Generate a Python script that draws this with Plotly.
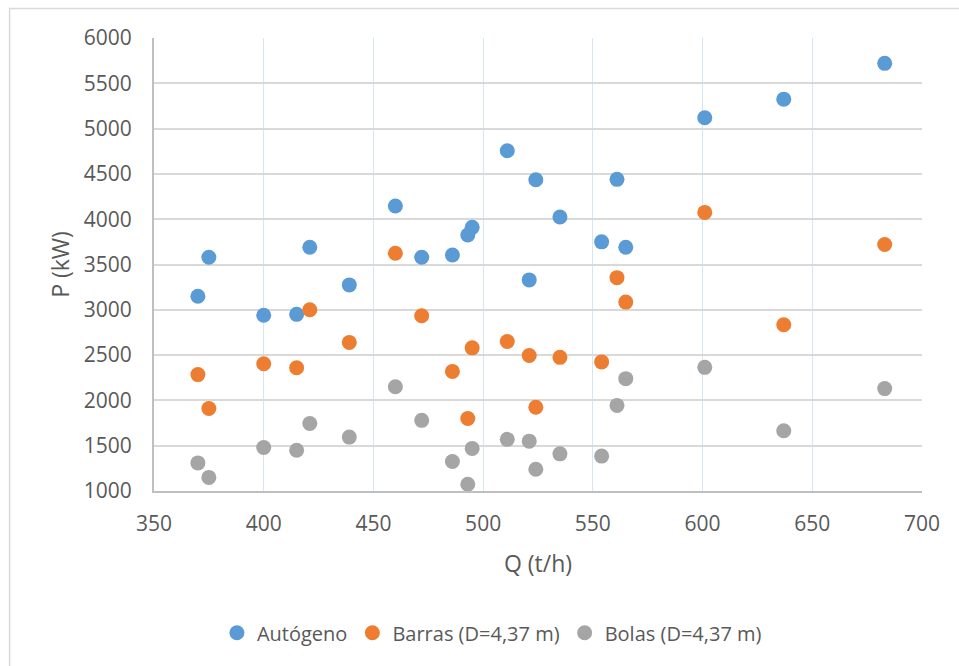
import plotly.graph_objects as go

q = [370, 375, 400, 415, 421, 439, 460, 472, 486, 493, 495,
     511, 521, 524, 535, 554, 561, 565, 601, 637, 683]
autogeno = [3150, 3580, 2940, 2950, 3690, 3275, 4145, 3580, 3605, 3825, 3910,
            4755, 3330, 4435, 4025, 3750, 4440, 3690, 5120, 5325, 5720]
barras = [2285, 1910, 2405, 2360, 3000, 2640, 3625, 2935, 2320, 1800, 2580,
          2650, 2495, 1925, 2475, 2425, 3355, 3085, 4075, 2835, 3720]
bolas = [1310, 1150, 1480, 1450, 1745, 1595, 2150, 1780, 1325, 1075, 1470,
         1570, 1550, 1240, 1410, 1385, 1945, 2240, 2365, 1665, 2130]

names = ["Autógeno", "Barras (D=4,37 m)", "Bolas (D=4,37 m)"]
colors = ["#5B9BD5", "#ED7D31", "#A5A5A5"]

fig = go.Figure()
for name, vals, c in zip(names, [autogeno, barras, bolas], colors):
    fig.add_trace(go.Scatter(x=q, y=vals, mode="markers", name=name,
                             marker=dict(size=15, color=c, line=dict(width=0))))

font = dict(family="Open Sans, Noto Sans, sans-serif", size=21, color="#595959")

fig.update_layout(
    width=959, height=666,
    margin=dict(l=154, r=37, t=38, b=175),
    paper_bgcolor="white", plot_bgcolor="white",
    font=font,
    showlegend=True,
    legend=dict(orientation="h", x=0.44, xanchor="center", y=-0.27, yanchor="top",
                font=dict(size=20, color="#595959"), itemwidth=30,
                tracegroupgap=0),
    xaxis=dict(range=[350, 700], dtick=50, tick0=350, showgrid=True,
               gridcolor="#D6E5F4", gridwidth=1, zeroline=False,
               showline=True, linecolor="#BFBFBF", linewidth=2, mirror=False,
               ticks="", tickfont=font, ticklabelstandoff=13,
               title=dict(text="Q (t/h)", font=dict(size=23, color="#595959"), standoff=20)),
    yaxis=dict(range=[1000, 6000], dtick=500, showgrid=True,
               gridcolor="#D9D9D9", gridwidth=2, zeroline=False,
               showline=True, linecolor="#BFBFBF", linewidth=2,
               ticks="", tickfont=font, ticklabelstandoff=16,
               title=dict(text="P (kW)", font=dict(size=23, color="#595959"), standoff=8)),
    shapes=[dict(type="rect", xref="paper", yref="paper",
                 x0=-0.188, x1=1.2, y0=-0.6, y1=1.065,
                 line=dict(color="#D9D9D9", width=1.5), fillcolor="rgba(0,0,0,0)",
                 layer="below")],
)

fig.write_html("out.html")
